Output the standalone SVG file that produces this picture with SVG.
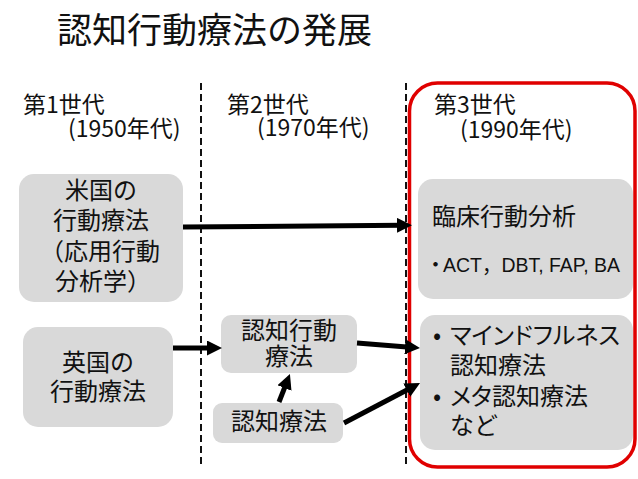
<svg xmlns="http://www.w3.org/2000/svg" width="638" height="479" viewBox="0 0 638 479">
<style>
text{font-family:"Noto Sans CJK JP","Noto Sans",sans-serif;fill:#111;}
.t{font-size:35px;}
.h{font-size:23px;}
.b{font-size:24px;}
.lat{font-family:"Liberation Sans","Noto Sans CJK JP",sans-serif;font-size:21px;}
.dot{font-size:21px;}
.box{fill:#d9d9d9;}
.dash{stroke:#111;stroke-width:2;stroke-dasharray:7 4;fill:none;}
.conn{stroke:#000;stroke-width:5;fill:none;}
.palt{font-feature-settings:"palt";}
</style>
<defs>
<marker id="ah" markerUnits="userSpaceOnUse" markerWidth="16" markerHeight="15" refX="5" refY="7.5" orient="auto">
<path d="M0,0 L15,7.5 L0,15 z" fill="#000"/>
</marker>
</defs>
<rect width="638" height="479" fill="#fff"/>
<text class="t" x="57" y="43">認知行動療法の発展</text>
<g id="dividers">
<line class="dash" x1="201" y1="83" x2="201" y2="466"/>
<line class="dash" x1="406" y1="83" x2="406" y2="466"/>
</g>
<g id="gen3-frame">
<rect x="409.5" y="83" width="225.5" height="384" rx="28" fill="none" stroke="#e00000" stroke-width="3.5"/>
</g>
<g id="headers">
<text class="h" x="23" y="113">第1世代</text>
<text class="h" x="68" y="137">(1950年代)</text>
<text class="h" x="227" y="113">第2世代</text>
<text class="h" x="257" y="136">(1970年代)</text>
<text class="h" x="434" y="113">第3世代</text>
<text class="h" x="460" y="138">(1990年代)</text>
</g>
<g id="us-behavior">
<rect class="box" x="19" y="174" width="164" height="128" rx="15"/>
<text class="b" text-anchor="middle" x="101" y="199">米国の</text>
<text class="b" text-anchor="middle" x="101" y="229">行動療法</text>
<text class="b" text-anchor="middle" x="100" y="260">（応用行動</text>
<text class="b" text-anchor="middle" x="103" y="290">分析学）</text>
</g>
<g id="uk-behavior">
<rect class="box" x="23" y="327" width="150" height="100" rx="15"/>
<text class="b" text-anchor="middle" x="98" y="371">英国の</text>
<text class="b" text-anchor="middle" x="98" y="400">行動療法</text>
</g>
<g id="cbt">
<rect class="box" x="221" y="315" width="136" height="58" rx="10"/>
<text class="b" text-anchor="middle" x="289" y="339">認知行動</text>
<text class="b" text-anchor="middle" x="289" y="365">療法</text>
</g>
<g id="ct">
<rect class="box" x="213" y="403" width="130" height="40" rx="9"/>
<text class="b" text-anchor="middle" x="279" y="430">認知療法</text>
</g>
<g id="clinical-behavior-analysis">
<rect class="box" x="418" y="179" width="215" height="120" rx="15"/>
<text class="b" x="432" y="225">臨床行動分析</text>
<text class="dot" x="425" y="272">・</text>
<text class="lat" x="443" y="272" textLength="177" lengthAdjust="spacingAndGlyphs">ACT，DBT, FAP, BA</text>
</g>
<g id="mindfulness">
<rect class="box" x="420" y="315" width="213" height="135" rx="15"/>
<text class="b palt" x="433" y="344">•<tspan x="450" textLength="170">マインドフルネス</tspan></text>
<text class="b" x="450" y="374">認知療法</text>
<text class="b palt" x="433" y="405">•<tspan x="450">メタ認知療法</tspan></text>
<text class="b" x="450" y="434">など</text>
</g>
<g id="connectors">
<line class="conn" x1="183" y1="227" x2="402" y2="225.3" marker-end="url(#ah)"/>
<line class="conn" x1="173" y1="348" x2="212" y2="348" marker-end="url(#ah)"/>
<line class="conn" x1="279" y1="402" x2="286.3" y2="383.3" marker-end="url(#ah)"/>
<line class="conn" x1="357" y1="343" x2="410" y2="347.2" marker-end="url(#ah)"/>
<line class="conn" x1="344" y1="423" x2="411.2" y2="387.7" marker-end="url(#ah)"/>
</g>
</svg>
